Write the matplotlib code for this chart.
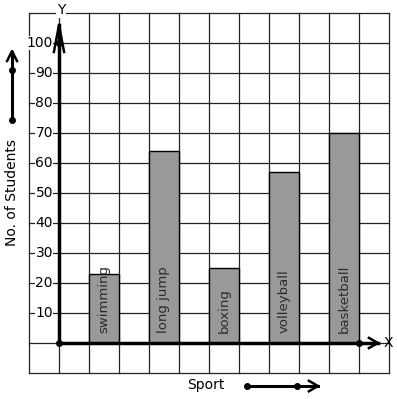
import numpy as np
import matplotlib.pyplot as plt

# data
sports = ["swimming", "long jump", "boxing", "volleyball", "basketball"]
students = [23, 64, 25, 57, 70]
bar_pos = [1.5, 3.5, 5.5, 7.5, 9.5]
yticks = [10, 20, 30, 40, 50, 60, 70, 80, 90, 100]

fig = plt.figure(figsize=(3.97, 3.99), dpi=100)
ax = fig.add_axes([0, 0, 1, 1])
# one column = 1 unit (30 px), one row = 10 units (30 px)
ax.set_xlim(-59 / 30, 338 / 30)
ax.set_ylim(-56 / 3, 343 / 3)
ax.axis("off")

# grid 12 x 12
gc = "#222222"
for xv in np.arange(-1, 12):
    ax.plot([xv, xv], [-10, 110], color=gc, lw=0.9, zorder=1)
for yv in np.arange(-10, 120, 10):
    ax.plot([-1, 11], [yv, yv], color=gc, lw=0.9, zorder=1)

# bars
ax.bar(bar_pos, students, width=1, color="#999999", edgecolor="black",
       linewidth=1, zorder=2)
for x, name in zip(bar_pos, sports):
    ax.text(x, 3.3, name, rotation=90, ha="center", va="bottom",
            fontsize=9.5, color="#2a2a2a", zorder=3)

# axes with arrows
ax.plot([0, 0], [0, 106], color="black", lw=2.5, zorder=4)
ax.plot([-0.17, 0, 0.17], [97, 106, 97], color="black", lw=1.8, zorder=4)
ax.plot([0, 10.63], [0, 0], color="black", lw=2.5, zorder=4)
ax.plot([10.33, 10.63, 10.33], [1.7, 0, -1.7], color="black", lw=1.8, zorder=4)
ax.plot([0, 0, 10], [0, 100, 0], "o", color="black", ms=4, zorder=5)
ax.text(0.07, 111, "Y", ha="center", va="center", fontsize=10,
        bbox=dict(fc="white", ec="none", pad=0.5), zorder=5)
ax.text(10.97, 0, "X", ha="center", va="center", fontsize=10, zorder=5)

# tick labels
for t in yticks:
    ax.text(-0.2, t, str(t), ha="right", va="center", fontsize=10,
            bbox=dict(fc="white", ec="none", pad=0.3), zorder=3)

# y label and arrow
ax.text(-1.567, 50, "No. of Students", rotation=90, ha="center",
        va="center", fontsize=10)
ax.plot([-1.567, -1.567], [74.3, 97], color="black", lw=2.2)
ax.plot([-1.73, -1.567, -1.4], [94, 97.3, 94], color="black", lw=1.8)
ax.plot([-1.567, -1.567], [74.3, 91], "o", color="black", ms=4)

# x label and arrow
ax.text(4.9, -14, "Sport", ha="center", va="center", fontsize=10)
ax.plot([6.27, 8.63], [-14.33, -14.33], color="black", lw=2.2)
ax.plot([8.33, 8.63, 8.33], [-12.6, -14.33, -16.1], color="black", lw=1.8)
ax.plot([6.27, 7.93], [-14.33, -14.33], "o", color="black", ms=4)

fig.savefig("out.png", dpi=100)
